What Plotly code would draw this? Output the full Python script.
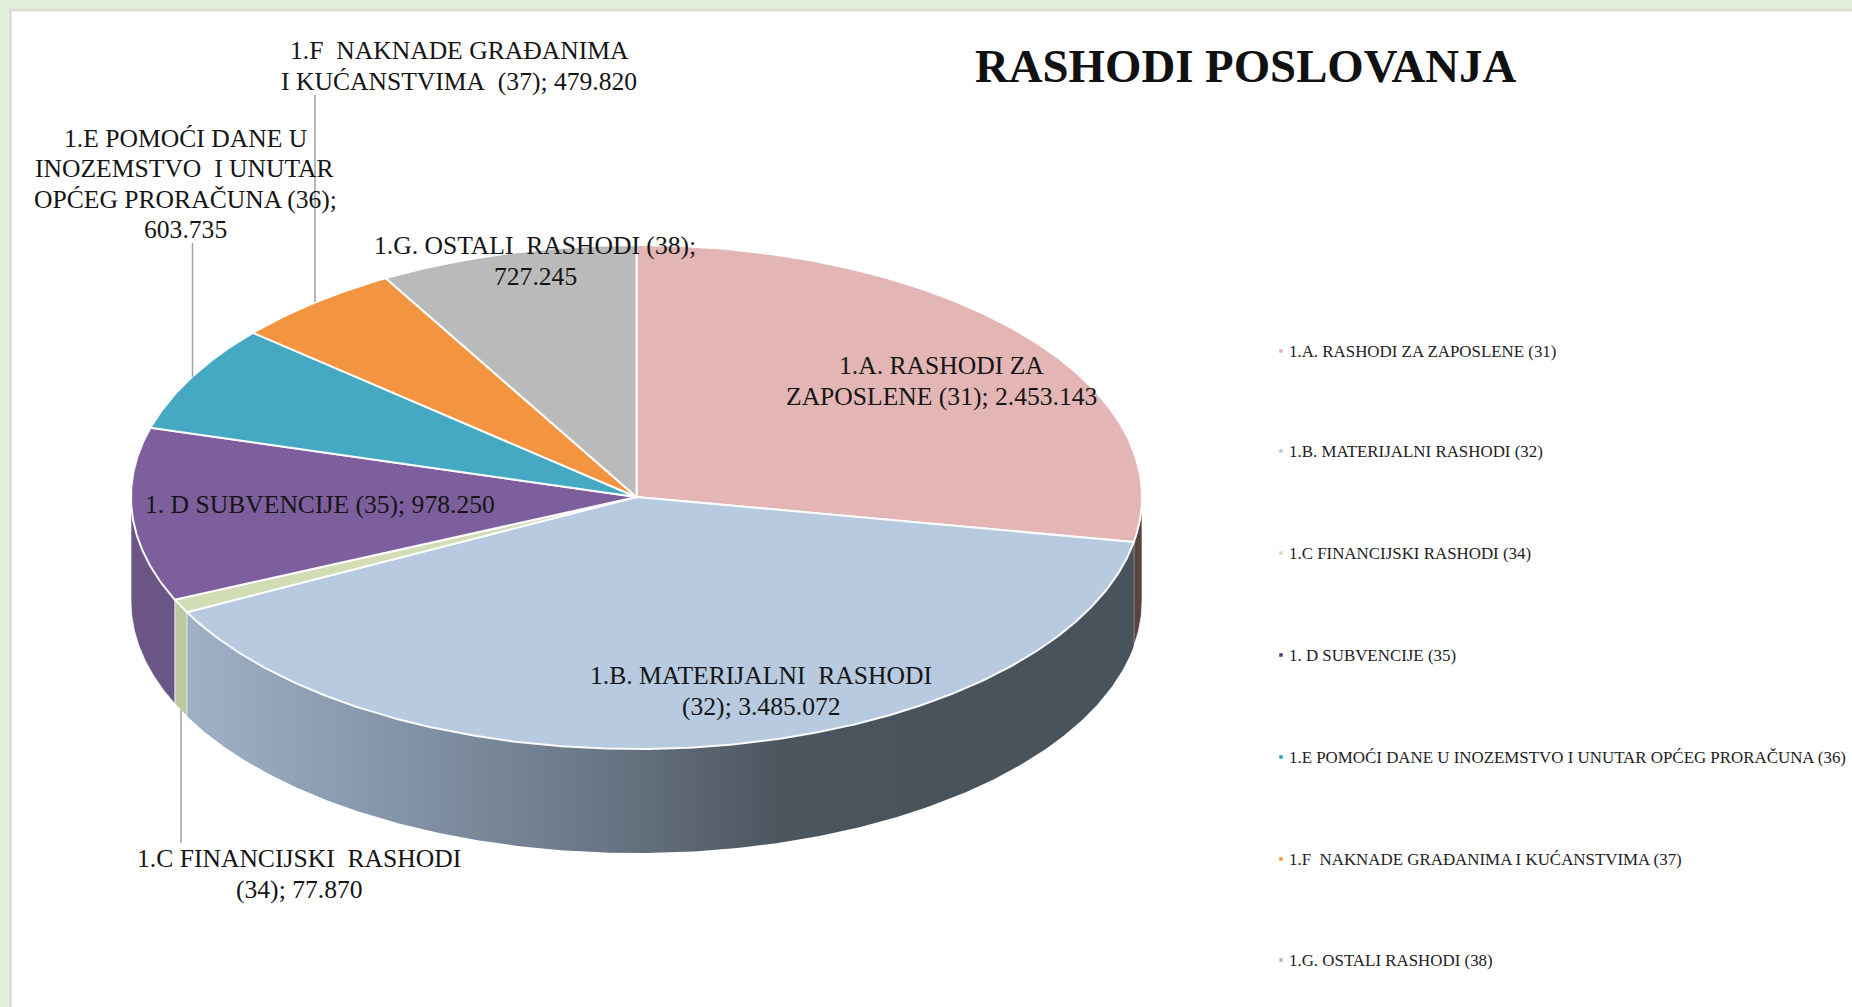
import math
import plotly.graph_objects as go

# ---------- data ----------
categories = [
    "1.A. RASHODI ZA ZAPOSLENE (31)",
    "1.B. MATERIJALNI RASHODI (32)",
    "1.C FINANCIJSKI RASHODI (34)",
    "1. D SUBVENCIJE (35)",
    "1.E POMOĆI DANE U INOZEMSTVO I UNUTAR OPĆEG PRORAČUNA (36)",
    "1.F  NAKNADE GRAĐANIMA I KUĆANSTVIMA (37)",
    "1.G. OSTALI RASHODI (38)",
]
values = [2453143, 3485072, 77870, 978250, 603735, 479820, 727245]
label_texts = [
    "1.A. RASHODI ZA<br>ZAPOSLENE (31); 2.453.143",
    "1.B. MATERIJALNI\u00a0\u00a0RASHODI<br>(32); 3.485.072",
    "1.C FINANCIJSKI\u00a0\u00a0RASHODI<br>(34); 77.870",
    "1. D SUBVENCIJE (35); 978.250",
    "1.E POMOĆI DANE U<br>INOZEMSTVO\u00a0\u00a0I UNUTAR<br>OPĆEG PRORAČUNA (36);<br>603.735",
    "1.F\u00a0\u00a0NAKNADE GRAĐANIMA<br>I KUĆANSTVIMA\u00a0\u00a0(37); 479.820",
    "1.G. OSTALI\u00a0\u00a0RASHODI (38);<br>727.245",
]
title_text = "RASHODI POSLOVANJA"

# ---------- style / layout ----------
top_colors = ["#E3B5B5", "#B7CADF", "#D3DDB5", "#7E5F9E", "#46A9C4", "#F39540", "#BABABA"]
side_colors = ["#5A4343", None, "#BCC9A0", "#6B5486", "#3A8CA3", "#C97A33", "#999999"]
legend_colors = ["#E3B5B5", "#B7CADF", "#D3DDB5", "#4F3A70", "#2F9DBB", "#F39540", "#BABABA"]
label_pos = [(941, 381), (761, 691), (299, 874), (320, 504), (185, 184), (459, 66), (535, 261)]
legend_y = [351, 451, 553, 655, 757, 859, 960]
LEGEND_X = 1281
LEGEND_TEXT_X = 1287
LINE_GAP = 30.2
leaders = [((181, 710), (181, 843)), ((192.5, 243), (192.5, 377)), ((315, 95), (315, 302))]
CX, CY, RX, RY, DEPTH = 636.5, 497.0, 505.5, 252.0, 104.0
SERIF = "Liberation Serif"
W, H = 1852, 1007


def pt(deg, dy=0.0):
    a = math.radians(deg)
    return CX + RX * math.sin(a), CY - RY * math.cos(a) + dy


def arc(a0, a1, dy=0.0):
    n = max(2, int(abs(a1 - a0) * 2) + 1)
    return [pt(a0 + (a1 - a0) * i / (n - 1), dy) for i in range(n)]


total = sum(values)
bounds = [0.0]
for v in values:
    bounds.append(bounds[-1] + 360.0 * v / total)

fig = go.Figure()


def poly(points, **kw):
    xs = [p[0] for p in points] + [points[0][0]]
    ys = [p[1] for p in points] + [points[0][1]]
    fig.add_trace(go.Scatter(x=xs, y=ys, mode="lines", fill="toself", hoverinfo="skip", showlegend=False, **kw))


# side walls, only the front half (90..270 deg) is visible
for i in range(len(values)):
    a0, a1 = max(bounds[i], 90.0), min(bounds[i + 1], 270.0)
    if a1 <= a0:
        continue
    pts = arc(a0, a1) + arc(a1, a0, DEPTH)
    if i == 1:
        poly(pts, line=dict(color="rgba(255,255,255,0)", width=0),
             fillgradient=dict(type="horizontal", start=187, stop=900,
                               colorscale=[[0, "#9FB1C7"], [0.3, "#8394A7"], [0.58, "#6A7685"],
                                           [0.83, "#4C565F"], [1, "#49535B"]]))
    else:
        poly(pts, fillcolor=side_colors[i], line=dict(color="rgba(255,255,255,0.6)", width=1))

# top faces
for i in range(len(values)):
    pts = [(CX, CY)] + arc(bounds[i], bounds[i + 1])
    poly(pts, fillcolor=top_colors[i], line=dict(color="rgba(255,255,255,0.95)", width=2))

# leader lines
for (x0, y0), (x1, y1) in leaders:
    fig.add_trace(go.Scatter(x=[x0, x1], y=[y0, y1], mode="lines", hoverinfo="skip", showlegend=False,
                             line=dict(color="#A0A0A0", width=1.5)))

# legend markers
fig.add_trace(go.Scatter(x=[LEGEND_X] * len(categories), y=legend_y, mode="markers", hoverinfo="skip",
                         showlegend=False,
                         marker=dict(symbol="square", size=3.5, color=legend_colors, line=dict(width=0))))

annotations = []
for txt, (x, y) in zip(label_texts, label_pos):
    lines = txt.split("<br>")
    for k, line in enumerate(lines):
        annotations.append(dict(x=x, y=y + (k - (len(lines) - 1) / 2) * LINE_GAP, xref="x", yref="y", text=line,
                                showarrow=False, xanchor="center", yanchor="middle", align="center",
                                font=dict(family=SERIF, size=25.6, color="#151515")))
for name, y in zip(categories, legend_y):
    annotations.append(dict(x=LEGEND_TEXT_X, y=y, xref="x", yref="y", text=name.replace("  ", "\u00a0\u00a0"),
                            showarrow=False, xanchor="left", yanchor="middle",
                            font=dict(family=SERIF, size=16.9, color="#222222")))
annotations.append(dict(x=1245, y=66, xref="x", yref="y", text="<b>" + title_text + "</b>", showarrow=False,
                        xanchor="center", yanchor="middle",
                        font=dict(family=SERIF, size=46.8, color="#111111")))

fig.update_layout(
    width=W, height=H, margin=dict(l=0, r=0, t=0, b=0, pad=0),
    paper_bgcolor="#E2EFDA", plot_bgcolor="#E2EFDA",
    xaxis=dict(range=[0, W], visible=False, fixedrange=True),
    yaxis=dict(range=[H, 0], visible=False, fixedrange=True),
    annotations=annotations,
    shapes=[dict(type="rect", xref="x", yref="y", x0=10.5, y0=10, x1=W + 5, y1=H + 5,
                 fillcolor="white", line=dict(width=2.5, color="#D9DDD6"), layer="below")],
)
fig.write_html("out.html", config=dict(displayModeBar=False),
               post_script="document.body.style.margin='0';document.body.style.overflow='hidden';")
